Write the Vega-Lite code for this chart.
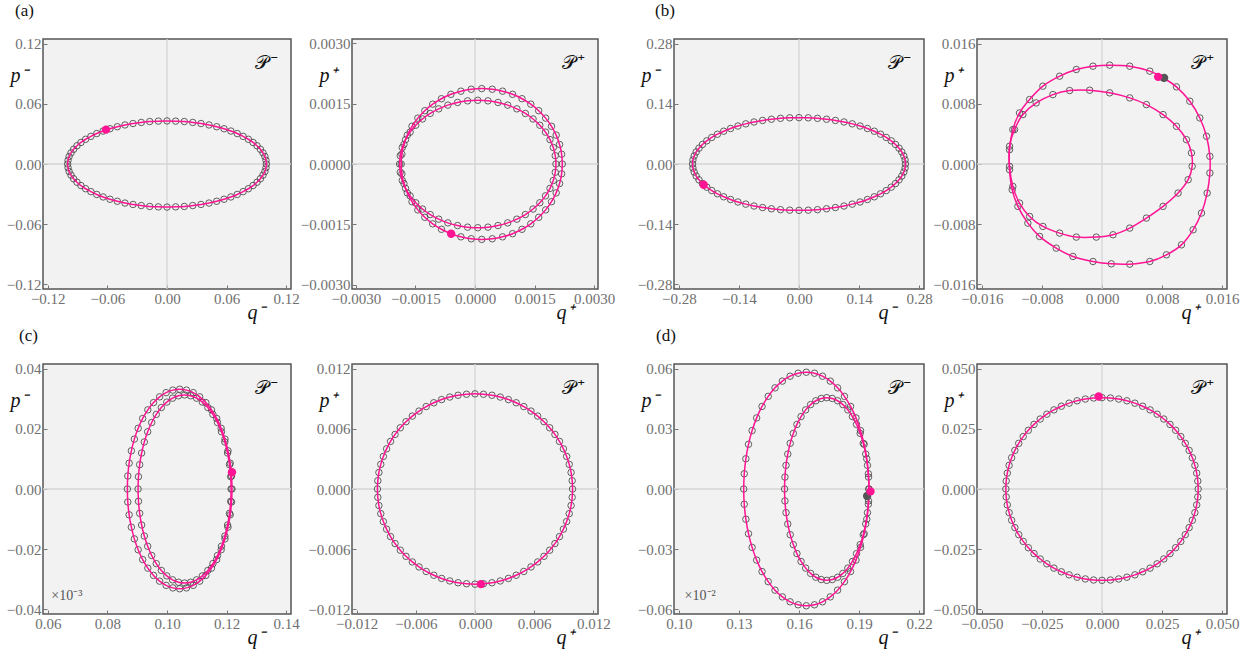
{
"$schema": "https://vega.github.io/schema/vega-lite/v6.json",
"padding": {"left": 5, "top": 1, "right": 5, "bottom": 2},
"background": "white",
"columns": 5,
"align": "each",
"bounds": "full",
"spacing": {"row": 3, "column": -2},
"config": {
 "view": {"fill": "#f2f2f2", "stroke": "#555555", "strokeWidth": 1.5},
 "axis": {"grid": false, "domain": false, "tickColor": "#777777", "tickSize": -4, "tickWidth": 1, "labelPadding": 6, "labelFont": "Liberation Serif, Times New Roman, serif", "labelFontSize": 15, "labelColor": "#707070", "labelOverlap": false, "labelFlush": false, "titleFont": "Liberation Serif, Times New Roman, serif", "titleFontSize": 20, "titleFontStyle": "italic", "titleFontWeight": "normal", "titleColor": "#111111"},
 "axisX": {"titleX": 204, "titleY": 29, "titleAlign": "left", "titleBaseline": "alphabetic"},
 "axisY": {"titleX": -33, "titleY": 42, "titleAngle": 0, "titleAlign": "left", "titleBaseline": "alphabetic"},
 "title": {"font": "Liberation Serif, Times New Roman, serif", "fontSize": 17, "fontWeight": "normal", "color": "#111111", "anchor": "start", "frame": "group", "baseline": "alphabetic", "offset": 17}
},
"concat": [
{
 "width": 248, "height": 250,
 "title": {"text": "(a)", "dx": -28},
 "data": {"values": [
{"q":0.1,"p":0},{"q":0.0996,"p":0.0037},{"q":0.0985,"p":0.0075},{"q":0.0966,"p":0.0111},{"q":0.094,"p":0.0147},{"q":0.0906,"p":0.0182},{"q":0.0866,"p":0.0215},{"q":0.0819,"p":0.0247},{"q":0.0766,"p":0.0276},{"q":0.0707,"p":0.0304},{"q":0.0643,"p":0.0329},{"q":0.0574,"p":0.0352},{"q":0.05,"p":0.0372},{"q":0.0423,"p":0.039},{"q":0.0342,"p":0.0404},{"q":0.0259,"p":0.0415},{"q":0.0174,"p":0.0424},{"q":0.0087,"p":0.0428},
{"q":0,"p":0.043},{"q":-0.0087,"p":0.0428},{"q":-0.0174,"p":0.0424},{"q":-0.0259,"p":0.0415},{"q":-0.0342,"p":0.0404},{"q":-0.0423,"p":0.039},{"q":-0.05,"p":0.0372},{"q":-0.0574,"p":0.0352},{"q":-0.0643,"p":0.0329},{"q":-0.0707,"p":0.0304},{"q":-0.0766,"p":0.0276},{"q":-0.0819,"p":0.0247},{"q":-0.0866,"p":0.0215},{"q":-0.0906,"p":0.0182},{"q":-0.094,"p":0.0147},{"q":-0.0966,"p":0.0111},{"q":-0.0985,"p":0.0075},{"q":-0.0996,"p":0.0037},
{"q":-0.1,"p":0},{"q":-0.0996,"p":-0.0037},{"q":-0.0985,"p":-0.0075},{"q":-0.0966,"p":-0.0111},{"q":-0.094,"p":-0.0147},{"q":-0.0906,"p":-0.0182},{"q":-0.0866,"p":-0.0215},{"q":-0.0819,"p":-0.0247},{"q":-0.0766,"p":-0.0276},{"q":-0.0707,"p":-0.0304},{"q":-0.0643,"p":-0.0329},{"q":-0.0574,"p":-0.0352},{"q":-0.05,"p":-0.0372},{"q":-0.0423,"p":-0.039},{"q":-0.0342,"p":-0.0404},{"q":-0.0259,"p":-0.0415},{"q":-0.0174,"p":-0.0424},{"q":-0.0087,"p":-0.0428},
{"q":0,"p":-0.043},{"q":0.0087,"p":-0.0428},{"q":0.0174,"p":-0.0424},{"q":0.0259,"p":-0.0415},{"q":0.0342,"p":-0.0404},{"q":0.0423,"p":-0.039},{"q":0.05,"p":-0.0372},{"q":0.0574,"p":-0.0352},{"q":0.0643,"p":-0.0329},{"q":0.0707,"p":-0.0304},{"q":0.0766,"p":-0.0276},{"q":0.0819,"p":-0.0247},{"q":0.0866,"p":-0.0215},{"q":0.0906,"p":-0.0182},{"q":0.094,"p":-0.0147},{"q":0.0966,"p":-0.0111},{"q":0.0985,"p":-0.0075},{"q":0.0996,"p":-0.0037}
 ]},
 "layer": [
  {"data": {"values": [{}]}, "mark": {"type": "rule", "color": "#d4d4d4", "strokeWidth": 1.3}, "encoding": {"x": {"datum": 0}}},
  {"data": {"values": [{}]}, "mark": {"type": "rule", "color": "#d4d4d4", "strokeWidth": 1.3}, "encoding": {"y": {"datum": 0}}},
  {"mark": {"type": "point", "shape": "circle", "filled": false, "stroke": "#444444", "strokeWidth": 0.85, "size": 42, "opacity": 1},
   "encoding": {
    "x": {"field": "q", "type": "quantitative", "scale": {"domain": [-0.1248, 0.1248], "nice": false, "zero": false}, "axis": {"values": [-0.12, -0.06, 0, 0.06, 0.12], "format": ".2f", "title": "q\u207b"}},
    "y": {"field": "p", "type": "quantitative", "scale": {"domain": [-0.1248, 0.1248], "nice": false, "zero": false}, "axis": {"values": [-0.12, -0.06, 0, 0.06, 0.12], "format": ".2f", "title": "p\u207b"}}}},
  {"mark": {"type": "line", "color": "#ff1493", "strokeWidth": 1.5, "interpolate": "cardinal-closed"}, "encoding": {"x": {"field": "q", "type": "quantitative"}, "y": {"field": "p", "type": "quantitative"}, "order": {"value": null}}},
  {"data": {"values": [{"q": -0.0614, "p": 0.0343}]}, "mark": {"type": "point", "filled": true, "color": "#ff1493", "size": 70, "opacity": 1}, "encoding": {"x": {"field": "q", "type": "quantitative"}, "y": {"field": "p", "type": "quantitative"}}},
  {"data": {"values": [{}]}, "mark": {"type": "text", "text": "\ud835\udcab\u200a\u207b", "fontSize": 19, "color": "#111111"}, "encoding": {"x": {"datum": 0.0996}, "y": {"datum": 0.1008}}}
 ]
},
{
 "width": 246, "height": 250,
 "data": {"values": [
{"q":0.0022,"p":0,"k":1},{"q":0.002183,"p":0.000244,"k":1},{"q":0.002131,"p":0.000484,"k":1},{"q":0.002046,"p":0.000716,"k":1},{"q":0.001928,"p":0.000935,"k":1},{"q":0.001781,"p":0.001138,"k":1},{"q":0.001605,"p":0.001322,"k":1},{"q":0.001406,"p":0.001484,"k":1},{"q":0.001185,"p":0.001619,"k":1},{"q":0.000947,"p":0.001728,"k":1},{"q":0.000695,"p":0.001806,"k":1},{"q":0.000435,"p":0.001854,"k":1},
{"q":0.00017,"p":0.00187,"k":1},{"q":-0.000095,"p":0.001854,"k":1},{"q":-0.000355,"p":0.001806,"k":1},{"q":-0.000607,"p":0.001728,"k":1},{"q":-0.000845,"p":0.001619,"k":1},{"q":-0.001066,"p":0.001484,"k":1},{"q":-0.001265,"p":0.001322,"k":1},{"q":-0.001441,"p":0.001138,"k":1},{"q":-0.001588,"p":0.000935,"k":1},{"q":-0.001706,"p":0.000716,"k":1},{"q":-0.001791,"p":0.000484,"k":1},{"q":-0.001843,"p":0.000244,"k":1},
{"q":-0.00186,"p":0,"k":1},{"q":-0.001843,"p":-0.000244,"k":1},{"q":-0.001791,"p":-0.000484,"k":1},{"q":-0.001706,"p":-0.000716,"k":1},{"q":-0.001588,"p":-0.000935,"k":1},{"q":-0.001441,"p":-0.001138,"k":1},{"q":-0.001265,"p":-0.001322,"k":1},{"q":-0.001066,"p":-0.001484,"k":1},{"q":-0.000845,"p":-0.001619,"k":1},{"q":-0.000607,"p":-0.001728,"k":1},{"q":-0.000355,"p":-0.001806,"k":1},{"q":-0.000095,"p":-0.001854,"k":1},
{"q":0.00017,"p":-0.00187,"k":1},{"q":0.000435,"p":-0.001854,"k":1},{"q":0.000695,"p":-0.001806,"k":1},{"q":0.000947,"p":-0.001728,"k":1},{"q":0.001185,"p":-0.001619,"k":1},{"q":0.001406,"p":-0.001484,"k":1},{"q":0.001605,"p":-0.001322,"k":1},{"q":0.001781,"p":-0.001138,"k":1},{"q":0.001928,"p":-0.000935,"k":1},{"q":0.002046,"p":-0.000716,"k":1},{"q":0.002131,"p":-0.000484,"k":1},{"q":0.002183,"p":-0.000244,"k":1},
{"q":0.00204,"p":0,"k":2},{"q":0.002023,"p":0.000206,"k":2},{"q":0.001973,"p":0.000409,"k":2},{"q":0.00189,"p":0.000605,"k":2},{"q":0.001776,"p":0.00079,"k":2},{"q":0.001633,"p":0.000962,"k":2},{"q":0.001463,"p":0.001117,"k":2},{"q":0.001269,"p":0.001254,"k":2},{"q":0.001055,"p":0.001368,"k":2},{"q":0.000824,"p":0.00146,"k":2},{"q":0.00058,"p":0.001526,"k":2},{"q":0.000327,"p":0.001566,"k":2},
{"q":0.00007,"p":0.00158,"k":2},{"q":-0.000187,"p":0.001566,"k":2},{"q":-0.00044,"p":0.001526,"k":2},{"q":-0.000684,"p":0.00146,"k":2},{"q":-0.000915,"p":0.001368,"k":2},{"q":-0.001129,"p":0.001254,"k":2},{"q":-0.001323,"p":0.001117,"k":2},{"q":-0.001493,"p":0.000962,"k":2},{"q":-0.001636,"p":0.00079,"k":2},{"q":-0.00175,"p":0.000605,"k":2},{"q":-0.001833,"p":0.000409,"k":2},{"q":-0.001883,"p":0.000206,"k":2},
{"q":-0.0019,"p":0,"k":2},{"q":-0.001883,"p":-0.000206,"k":2},{"q":-0.001833,"p":-0.000409,"k":2},{"q":-0.00175,"p":-0.000605,"k":2},{"q":-0.001636,"p":-0.00079,"k":2},{"q":-0.001493,"p":-0.000962,"k":2},{"q":-0.001323,"p":-0.001117,"k":2},{"q":-0.001129,"p":-0.001254,"k":2},{"q":-0.000915,"p":-0.001368,"k":2},{"q":-0.000684,"p":-0.00146,"k":2},{"q":-0.00044,"p":-0.001526,"k":2},{"q":-0.000187,"p":-0.001566,"k":2},
{"q":0.00007,"p":-0.00158,"k":2},{"q":0.000327,"p":-0.001566,"k":2},{"q":0.00058,"p":-0.001526,"k":2},{"q":0.000824,"p":-0.00146,"k":2},{"q":0.001055,"p":-0.001368,"k":2},{"q":0.001269,"p":-0.001254,"k":2},{"q":0.001463,"p":-0.001117,"k":2},{"q":0.001633,"p":-0.000962,"k":2},{"q":0.001776,"p":-0.00079,"k":2},{"q":0.00189,"p":-0.000605,"k":2},{"q":0.001973,"p":-0.000409,"k":2},{"q":0.002023,"p":-0.000206,"k":2}
 ]},
 "layer": [
  {"data": {"values": [{}]}, "mark": {"type": "rule", "color": "#d4d4d4", "strokeWidth": 1.3}, "encoding": {"x": {"datum": 0}}},
  {"data": {"values": [{}]}, "mark": {"type": "rule", "color": "#d4d4d4", "strokeWidth": 1.3}, "encoding": {"y": {"datum": 0}}},
  {"mark": {"type": "point", "shape": "circle", "filled": false, "stroke": "#444444", "strokeWidth": 0.85, "size": 42, "opacity": 1},
   "encoding": {
    "x": {"field": "q", "type": "quantitative", "scale": {"domain": [-0.0031, 0.0031], "nice": false, "zero": false}, "axis": {"values": [-0.003, -0.0015, 0, 0.0015, 0.003], "format": ".4f", "title": "q\u207a"}},
    "y": {"field": "p", "type": "quantitative", "scale": {"domain": [-0.0031, 0.0031], "nice": false, "zero": false}, "axis": {"values": [-0.003, -0.0015, 0, 0.0015, 0.003], "format": ".4f", "title": "p\u207a"}}}},
  {"mark": {"type": "line", "color": "#ff1493", "strokeWidth": 1.5, "interpolate": "cardinal-closed"}, "encoding": {"x": {"field": "q", "type": "quantitative"}, "y": {"field": "p", "type": "quantitative"}, "detail": {"field": "k"}, "order": {"value": null}}},
  {"data": {"values": [{"q": -0.0006, "p": -0.00173}]}, "mark": {"type": "point", "filled": true, "color": "#ff1493", "size": 70, "opacity": 1}, "encoding": {"x": {"field": "q", "type": "quantitative"}, "y": {"field": "p", "type": "quantitative"}}},
  {"data": {"values": [{}]}, "mark": {"type": "text", "text": "\ud835\udcab\u200a\u207a", "fontSize": 19, "color": "#111111"}, "encoding": {"x": {"datum": 0.00247}, "y": {"datum": 0.0025}}}
 ]
},
{"width": 22, "height": 250, "data": {"values": []}, "mark": "point", "encoding": {}, "view": {"fill": null, "stroke": null}},
{
 "width": 250, "height": 250,
 "title": {"text": "(b)", "dx": -19},
 "data": {"values": [
{"q":0.248,"p":0},{"q":0.2471,"p":0.0094},{"q":0.2442,"p":0.0187},{"q":0.2395,"p":0.028},{"q":0.233,"p":0.0369},{"q":0.2248,"p":0.0456},{"q":0.2148,"p":0.054},{"q":0.2032,"p":0.0619},{"q":0.19,"p":0.0694},{"q":0.1754,"p":0.0764},{"q":0.1594,"p":0.0827},{"q":0.1423,"p":0.0885},{"q":0.124,"p":0.0935},{"q":0.1048,"p":0.0979},{"q":0.0848,"p":0.1015},{"q":0.0642,"p":0.1043},{"q":0.0431,"p":0.1064},{"q":0.0216,"p":0.1076},
{"q":0,"p":0.108},{"q":-0.0216,"p":0.1076},{"q":-0.0431,"p":0.1064},{"q":-0.0642,"p":0.1043},{"q":-0.0848,"p":0.1015},{"q":-0.1048,"p":0.0979},{"q":-0.124,"p":0.0935},{"q":-0.1423,"p":0.0885},{"q":-0.1594,"p":0.0827},{"q":-0.1754,"p":0.0764},{"q":-0.19,"p":0.0694},{"q":-0.2032,"p":0.0619},{"q":-0.2148,"p":0.054},{"q":-0.2248,"p":0.0456},{"q":-0.233,"p":0.0369},{"q":-0.2395,"p":0.028},{"q":-0.2442,"p":0.0187},{"q":-0.2471,"p":0.0094},
{"q":-0.248,"p":0},{"q":-0.2471,"p":-0.0094},{"q":-0.2442,"p":-0.0187},{"q":-0.2395,"p":-0.028},{"q":-0.233,"p":-0.0369},{"q":-0.2248,"p":-0.0456},{"q":-0.2148,"p":-0.054},{"q":-0.2032,"p":-0.0619},{"q":-0.19,"p":-0.0694},{"q":-0.1754,"p":-0.0764},{"q":-0.1594,"p":-0.0827},{"q":-0.1423,"p":-0.0885},{"q":-0.124,"p":-0.0935},{"q":-0.1048,"p":-0.0979},{"q":-0.0848,"p":-0.1015},{"q":-0.0642,"p":-0.1043},{"q":-0.0431,"p":-0.1064},{"q":-0.0216,"p":-0.1076},
{"q":0,"p":-0.108},{"q":0.0216,"p":-0.1076},{"q":0.0431,"p":-0.1064},{"q":0.0642,"p":-0.1043},{"q":0.0848,"p":-0.1015},{"q":0.1048,"p":-0.0979},{"q":0.124,"p":-0.0935},{"q":0.1423,"p":-0.0885},{"q":0.1594,"p":-0.0827},{"q":0.1754,"p":-0.0764},{"q":0.19,"p":-0.0694},{"q":0.2032,"p":-0.0619},{"q":0.2148,"p":-0.054},{"q":0.2248,"p":-0.0456},{"q":0.233,"p":-0.0369},{"q":0.2395,"p":-0.028},{"q":0.2442,"p":-0.0187},{"q":0.2471,"p":-0.0094}
 ]},
 "layer": [
  {"data": {"values": [{}]}, "mark": {"type": "rule", "color": "#d4d4d4", "strokeWidth": 1.3}, "encoding": {"x": {"datum": 0}}},
  {"data": {"values": [{}]}, "mark": {"type": "rule", "color": "#d4d4d4", "strokeWidth": 1.3}, "encoding": {"y": {"datum": 0}}},
  {"mark": {"type": "point", "shape": "circle", "filled": false, "stroke": "#444444", "strokeWidth": 0.85, "size": 42, "opacity": 1},
   "encoding": {
    "x": {"field": "q", "type": "quantitative", "scale": {"domain": [-0.2912, 0.2912], "nice": false, "zero": false}, "axis": {"values": [-0.28, -0.14, 0, 0.14, 0.28], "format": ".2f", "title": "q\u207b"}},
    "y": {"field": "p", "type": "quantitative", "scale": {"domain": [-0.2912, 0.2912], "nice": false, "zero": false}, "axis": {"values": [-0.28, -0.14, 0, 0.14, 0.28], "format": ".2f", "title": "p\u207b"}}}},
  {"mark": {"type": "line", "color": "#ff1493", "strokeWidth": 1.5, "interpolate": "cardinal-closed"}, "encoding": {"x": {"field": "q", "type": "quantitative"}, "y": {"field": "p", "type": "quantitative"}, "order": {"value": null}}},
  {"data": {"values": [{"q": -0.222, "p": -0.0483}]}, "mark": {"type": "point", "filled": true, "color": "#ff1493", "size": 70, "opacity": 1}, "encoding": {"x": {"field": "q", "type": "quantitative"}, "y": {"field": "p", "type": "quantitative"}}},
  {"data": {"values": [{}]}, "mark": {"type": "text", "text": "\ud835\udcab\u200a\u207b", "fontSize": 19, "color": "#111111"}, "encoding": {"x": {"datum": 0.2325}, "y": {"datum": 0.2353}}}
 ]
},
{
 "width": 250, "height": 250,
 "data": {"values": [
{"q":0.00102,"p":0.01316,"k":1},{"q":0.00369,"p":0.01302,"k":1},{"q":0.00636,"p":0.01236,"k":1},{"q":0.00813,"p":0.01147,"k":1},{"q":0.00991,"p":0.01027,"k":1},{"q":0.01169,"p":0.00836,"k":1},{"q":0.01302,"p":0.00613,"k":1},{"q":0.01391,"p":0.00369,"k":1},{"q":0.01436,"p":0.00102,"k":1},{"q":0.01436,"p":-0.0012,"k":1},{"q":0.014,"p":-0.00387,"k":1},{"q":0.01324,"p":-0.00653,"k":1},{"q":0.01213,"p":-0.00876,"k":1},{"q":0.01058,"p":-0.01076,"k":1},{"q":0.00858,"p":-0.01209,"k":1},{"q":0.00636,"p":-0.01298,"k":1},{"q":0.00369,"p":-0.01333,"k":1},{"q":0.00124,"p":-0.01329,"k":1},{"q":-0.0012,"p":-0.01298,"k":1},{"q":-0.00387,"p":-0.01231,"k":1},{"q":-0.00609,"p":-0.0112,"k":1},{"q":-0.00831,"p":-0.00964,"k":1},{"q":-0.00987,"p":-0.00787,"k":1},{"q":-0.0112,"p":-0.00564,"k":1},{"q":-0.01196,"p":-0.00342,"k":1},{"q":-0.01231,"p":-0.00076,"k":1},{"q":-0.01231,"p":0.00191,"k":1},{"q":-0.01187,"p":0.00458,"k":1},{"q":-0.01098,"p":0.0068,"k":1},{"q":-0.00964,"p":0.00858,"k":1},{"q":-0.00787,"p":0.01036,"k":1},{"q":-0.00564,"p":0.01169,"k":1},{"q":-0.00342,"p":0.01258,"k":1},{"q":-0.0012,"p":0.01302,"k":1},
{"q":-0.00164,"p":0.00982,"k":2},{"q":0.00102,"p":0.00947,"k":2},{"q":0.00369,"p":0.0088,"k":2},{"q":0.00591,"p":0.00791,"k":2},{"q":0.00813,"p":0.00658,"k":2},{"q":0.00991,"p":0.00502,"k":2},{"q":0.01124,"p":0.00324,"k":2},{"q":0.01191,"p":0.00147,"k":2},{"q":0.012,"p":-0.00031,"k":2},{"q":0.01147,"p":-0.00209,"k":2},{"q":0.01013,"p":-0.00387,"k":2},{"q":0.00813,"p":-0.00564,"k":2},{"q":0.00591,"p":-0.0072,"k":2},{"q":0.00369,"p":-0.00853,"k":2},{"q":0.00147,"p":-0.00942,"k":2},{"q":-0.00076,"p":-0.00973,"k":2},{"q":-0.00342,"p":-0.00973,"k":2},{"q":-0.00564,"p":-0.0092,"k":2},{"q":-0.00787,"p":-0.00831,"k":2},{"q":-0.00964,"p":-0.00698,"k":2},{"q":-0.01098,"p":-0.0052,"k":2},{"q":-0.01187,"p":-0.00298,"k":2},{"q":-0.01231,"p":-0.00031,"k":2},{"q":-0.01231,"p":0.00236,"k":2},{"q":-0.01164,"p":0.00458,"k":2},{"q":-0.01053,"p":0.00658,"k":2},{"q":-0.00876,"p":0.00813,"k":2},{"q":-0.00653,"p":0.00924,"k":2},{"q":-0.00431,"p":0.00978,"k":2}
 ]},
 "layer": [
  {"data": {"values": [{}]}, "mark": {"type": "rule", "color": "#d4d4d4", "strokeWidth": 1.3}, "encoding": {"x": {"datum": 0}}},
  {"data": {"values": [{}]}, "mark": {"type": "rule", "color": "#d4d4d4", "strokeWidth": 1.3}, "encoding": {"y": {"datum": 0}}},
  {"mark": {"type": "point", "shape": "circle", "filled": false, "stroke": "#444444", "strokeWidth": 0.85, "size": 42, "opacity": 1},
   "encoding": {
    "x": {"field": "q", "type": "quantitative", "scale": {"domain": [-0.01664, 0.01664], "nice": false, "zero": false}, "axis": {"values": [-0.016, -0.008, 0, 0.008, 0.016], "format": ".3f", "title": "q\u207a"}},
    "y": {"field": "p", "type": "quantitative", "scale": {"domain": [-0.01664, 0.01664], "nice": false, "zero": false}, "axis": {"values": [-0.016, -0.008, 0, 0.008, 0.016], "format": ".3f", "title": "p\u207a"}}}},
  {"mark": {"type": "line", "color": "#ff1493", "strokeWidth": 1.5, "interpolate": "cardinal-closed"}, "encoding": {"x": {"field": "q", "type": "quantitative"}, "y": {"field": "p", "type": "quantitative"}, "detail": {"field": "k"}, "order": {"value": null}}},
  {"data": {"values": [{"q": 0.00827, "p": 0.01147}]}, "mark": {"type": "point", "filled": true, "color": "#555555", "size": 70, "opacity": 1}, "encoding": {"x": {"field": "q", "type": "quantitative"}, "y": {"field": "p", "type": "quantitative"}}},
  {"data": {"values": [{"q": 0.00747, "p": 0.0116}]}, "mark": {"type": "point", "filled": true, "color": "#ff1493", "size": 70, "opacity": 1}, "encoding": {"x": {"field": "q", "type": "quantitative"}, "y": {"field": "p", "type": "quantitative"}}},
  {"data": {"values": [{}]}, "mark": {"type": "text", "text": "\ud835\udcab\u200a\u207a", "fontSize": 19, "color": "#111111"}, "encoding": {"x": {"datum": 0.01328}, "y": {"datum": 0.01344}}}
 ]
},
{
 "width": 248, "height": 250,
 "title": {"text": "(c)", "dx": -24},
 "data": {"values": [
{"q":0.1218,"p":0,"k":1},{"q":0.12165,"p":0.00433,"k":1},{"q":0.1212,"p":0.00859,"k":1},{"q":0.12046,"p":0.01271,"k":1},{"q":0.11945,"p":0.0166,"k":1},{"q":0.11817,"p":0.02021,"k":1},{"q":0.11666,"p":0.02348,"k":1},{"q":0.11493,"p":0.02634,"k":1},{"q":0.11303,"p":0.02875,"k":1},{"q":0.11097,"p":0.03067,"k":1},{"q":0.10879,"p":0.03207,"k":1},{"q":0.10654,"p":0.03291,"k":1},
{"q":0.10425,"p":0.0332,"k":1},{"q":0.10196,"p":0.03291,"k":1},{"q":0.09971,"p":0.03207,"k":1},{"q":0.09753,"p":0.03067,"k":1},{"q":0.09548,"p":0.02875,"k":1},{"q":0.09357,"p":0.02634,"k":1},{"q":0.09184,"p":0.02348,"k":1},{"q":0.09033,"p":0.02021,"k":1},{"q":0.08905,"p":0.0166,"k":1},{"q":0.08804,"p":0.01271,"k":1},{"q":0.0873,"p":0.00859,"k":1},{"q":0.08685,"p":0.00433,"k":1},
{"q":0.0867,"p":0,"k":1},{"q":0.08685,"p":-0.00433,"k":1},{"q":0.0873,"p":-0.00859,"k":1},{"q":0.08804,"p":-0.01271,"k":1},{"q":0.08905,"p":-0.0166,"k":1},{"q":0.09033,"p":-0.02021,"k":1},{"q":0.09184,"p":-0.02348,"k":1},{"q":0.09357,"p":-0.02634,"k":1},{"q":0.09548,"p":-0.02875,"k":1},{"q":0.09753,"p":-0.03067,"k":1},{"q":0.09971,"p":-0.03207,"k":1},{"q":0.10196,"p":-0.03291,"k":1},
{"q":0.10425,"p":-0.0332,"k":1},{"q":0.10654,"p":-0.03291,"k":1},{"q":0.10879,"p":-0.03207,"k":1},{"q":0.11097,"p":-0.03067,"k":1},{"q":0.11303,"p":-0.02875,"k":1},{"q":0.11493,"p":-0.02634,"k":1},{"q":0.11666,"p":-0.02348,"k":1},{"q":0.11817,"p":-0.02021,"k":1},{"q":0.11945,"p":-0.0166,"k":1},{"q":0.12046,"p":-0.01271,"k":1},{"q":0.1212,"p":-0.00859,"k":1},{"q":0.12165,"p":-0.00433,"k":1},
{"q":0.1215,"p":0,"k":2},{"q":0.12137,"p":0.00409,"k":2},{"q":0.12097,"p":0.0081,"k":2},{"q":0.12031,"p":0.01198,"k":2},{"q":0.11941,"p":0.01565,"k":2},{"q":0.11828,"p":0.01906,"k":2},{"q":0.11693,"p":0.02213,"k":2},{"q":0.1154,"p":0.02483,"k":2},{"q":0.1137,"p":0.02711,"k":2},{"q":0.11187,"p":0.02892,"k":2},{"q":0.10994,"p":0.03023,"k":2},{"q":0.10794,"p":0.03103,"k":2},
{"q":0.1059,"p":0.0313,"k":2},{"q":0.10386,"p":0.03103,"k":2},{"q":0.10186,"p":0.03023,"k":2},{"q":0.09993,"p":0.02892,"k":2},{"q":0.0981,"p":0.02711,"k":2},{"q":0.0964,"p":0.02483,"k":2},{"q":0.09487,"p":0.02213,"k":2},{"q":0.09352,"p":0.01906,"k":2},{"q":0.09239,"p":0.01565,"k":2},{"q":0.09149,"p":0.01198,"k":2},{"q":0.09083,"p":0.0081,"k":2},{"q":0.09043,"p":0.00409,"k":2},
{"q":0.0903,"p":0,"k":2},{"q":0.09043,"p":-0.00409,"k":2},{"q":0.09083,"p":-0.0081,"k":2},{"q":0.09149,"p":-0.01198,"k":2},{"q":0.09239,"p":-0.01565,"k":2},{"q":0.09352,"p":-0.01906,"k":2},{"q":0.09487,"p":-0.02213,"k":2},{"q":0.0964,"p":-0.02483,"k":2},{"q":0.0981,"p":-0.02711,"k":2},{"q":0.09993,"p":-0.02892,"k":2},{"q":0.10186,"p":-0.03023,"k":2},{"q":0.10386,"p":-0.03103,"k":2},
{"q":0.1059,"p":-0.0313,"k":2},{"q":0.10794,"p":-0.03103,"k":2},{"q":0.10994,"p":-0.03023,"k":2},{"q":0.11187,"p":-0.02892,"k":2},{"q":0.1137,"p":-0.02711,"k":2},{"q":0.1154,"p":-0.02483,"k":2},{"q":0.11693,"p":-0.02213,"k":2},{"q":0.11828,"p":-0.01906,"k":2},{"q":0.11941,"p":-0.01565,"k":2},{"q":0.12031,"p":-0.01198,"k":2},{"q":0.12097,"p":-0.0081,"k":2},{"q":0.12137,"p":-0.00409,"k":2}
 ]},
 "layer": [
  {"data": {"values": [{}]}, "mark": {"type": "rule", "color": "#d4d4d4", "strokeWidth": 1.3}, "encoding": {"y": {"datum": 0}}},
  {"mark": {"type": "point", "shape": "circle", "filled": false, "stroke": "#444444", "strokeWidth": 0.85, "size": 42, "opacity": 1},
   "encoding": {
    "x": {"field": "q", "type": "quantitative", "scale": {"domain": [0.0584, 0.1416], "nice": false, "zero": false}, "axis": {"values": [0.06, 0.08, 0.1, 0.12, 0.14], "format": ".2f", "title": "q\u207b"}},
    "y": {"field": "p", "type": "quantitative", "scale": {"domain": [-0.0416, 0.0416], "nice": false, "zero": false}, "axis": {"values": [-0.04, -0.02, 0, 0.02, 0.04], "format": ".2f", "title": "p\u207b"}}}},
  {"mark": {"type": "line", "color": "#ff1493", "strokeWidth": 1.5, "interpolate": "cardinal-closed"}, "encoding": {"x": {"field": "q", "type": "quantitative"}, "y": {"field": "p", "type": "quantitative"}, "detail": {"field": "k"}, "order": {"value": null}}},
  {"data": {"values": [{"q": 0.1218, "p": 0.0056}]}, "mark": {"type": "point", "filled": true, "color": "#ff1493", "size": 70, "opacity": 1}, "encoding": {"x": {"field": "q", "type": "quantitative"}, "y": {"field": "p", "type": "quantitative"}}},
  {"data": {"values": [{}]}, "mark": {"type": "text", "text": "\ud835\udcab\u200a\u207b", "fontSize": 19, "color": "#111111"}, "encoding": {"x": {"datum": 0.1332}, "y": {"datum": 0.0336}}},
  {"data": {"values": [{}]}, "mark": {"type": "text", "text": "\u00d710\u207b\u00b3", "font": "Liberation Serif, Times New Roman, serif", "fontSize": 14, "color": "#555555", "align": "left", "baseline": "alphabetic"}, "encoding": {"x": {"datum": 0.0612}, "y": {"datum": -0.037}}}
 ]
},
{
 "width": 246, "height": 250,
 "data": {"values": [
{"q":0.0099,"p":0},{"q":0.00986,"p":0.00083},{"q":0.00975,"p":0.00165},{"q":0.00956,"p":0.00246},{"q":0.0093,"p":0.00325},{"q":0.00897,"p":0.00401},{"q":0.00857,"p":0.00475},{"q":0.00811,"p":0.00545},{"q":0.00758,"p":0.00611},{"q":0.007,"p":0.00672},{"q":0.00636,"p":0.00728},{"q":0.00568,"p":0.00778},{"q":0.00495,"p":0.00823},{"q":0.00418,"p":0.00861},{"q":0.00339,"p":0.00893},{"q":0.00256,"p":0.00918},{"q":0.00172,"p":0.00936},{"q":0.00086,"p":0.00946},
{"q":0,"p":0.0095},{"q":-0.00086,"p":0.00946},{"q":-0.00172,"p":0.00936},{"q":-0.00256,"p":0.00918},{"q":-0.00339,"p":0.00893},{"q":-0.00418,"p":0.00861},{"q":-0.00495,"p":0.00823},{"q":-0.00568,"p":0.00778},{"q":-0.00636,"p":0.00728},{"q":-0.007,"p":0.00672},{"q":-0.00758,"p":0.00611},{"q":-0.00811,"p":0.00545},{"q":-0.00857,"p":0.00475},{"q":-0.00897,"p":0.00401},{"q":-0.0093,"p":0.00325},{"q":-0.00956,"p":0.00246},{"q":-0.00975,"p":0.00165},{"q":-0.00986,"p":0.00083},
{"q":-0.0099,"p":0},{"q":-0.00986,"p":-0.00083},{"q":-0.00975,"p":-0.00165},{"q":-0.00956,"p":-0.00246},{"q":-0.0093,"p":-0.00325},{"q":-0.00897,"p":-0.00401},{"q":-0.00857,"p":-0.00475},{"q":-0.00811,"p":-0.00545},{"q":-0.00758,"p":-0.00611},{"q":-0.007,"p":-0.00672},{"q":-0.00636,"p":-0.00728},{"q":-0.00568,"p":-0.00778},{"q":-0.00495,"p":-0.00823},{"q":-0.00418,"p":-0.00861},{"q":-0.00339,"p":-0.00893},{"q":-0.00256,"p":-0.00918},{"q":-0.00172,"p":-0.00936},{"q":-0.00086,"p":-0.00946},
{"q":0,"p":-0.0095},{"q":0.00086,"p":-0.00946},{"q":0.00172,"p":-0.00936},{"q":0.00256,"p":-0.00918},{"q":0.00339,"p":-0.00893},{"q":0.00418,"p":-0.00861},{"q":0.00495,"p":-0.00823},{"q":0.00568,"p":-0.00778},{"q":0.00636,"p":-0.00728},{"q":0.007,"p":-0.00672},{"q":0.00758,"p":-0.00611},{"q":0.00811,"p":-0.00545},{"q":0.00857,"p":-0.00475},{"q":0.00897,"p":-0.00401},{"q":0.0093,"p":-0.00325},{"q":0.00956,"p":-0.00246},{"q":0.00975,"p":-0.00165},{"q":0.00986,"p":-0.00083}
 ]},
 "layer": [
  {"data": {"values": [{}]}, "mark": {"type": "rule", "color": "#d4d4d4", "strokeWidth": 1.3}, "encoding": {"x": {"datum": 0}}},
  {"data": {"values": [{}]}, "mark": {"type": "rule", "color": "#d4d4d4", "strokeWidth": 1.3}, "encoding": {"y": {"datum": 0}}},
  {"mark": {"type": "point", "shape": "circle", "filled": false, "stroke": "#444444", "strokeWidth": 0.85, "size": 42, "opacity": 1},
   "encoding": {
    "x": {"field": "q", "type": "quantitative", "scale": {"domain": [-0.01248, 0.01248], "nice": false, "zero": false}, "axis": {"values": [-0.012, -0.006, 0, 0.006, 0.012], "format": ".3f", "title": "q\u207a"}},
    "y": {"field": "p", "type": "quantitative", "scale": {"domain": [-0.01248, 0.01248], "nice": false, "zero": false}, "axis": {"values": [-0.012, -0.006, 0, 0.006, 0.012], "format": ".3f", "title": "p\u207a"}}}},
  {"mark": {"type": "line", "color": "#ff1493", "strokeWidth": 1.5, "interpolate": "cardinal-closed"}, "encoding": {"x": {"field": "q", "type": "quantitative"}, "y": {"field": "p", "type": "quantitative"}, "order": {"value": null}}},
  {"data": {"values": [{"q": 0.0006, "p": -0.0095}]}, "mark": {"type": "point", "filled": true, "color": "#ff1493", "size": 70, "opacity": 1}, "encoding": {"x": {"field": "q", "type": "quantitative"}, "y": {"field": "p", "type": "quantitative"}}},
  {"data": {"values": [{}]}, "mark": {"type": "text", "text": "\ud835\udcab\u200a\u207a", "fontSize": 19, "color": "#111111"}, "encoding": {"x": {"datum": 0.00996}, "y": {"datum": 0.0101}}}
 ]
},
{"width": 22, "height": 250, "data": {"values": []}, "mark": "point", "encoding": {}, "view": {"fill": null, "stroke": null}},
{
 "width": 250, "height": 250,
 "title": {"text": "(d)", "dx": -18},
 "data": {"values": [
{"q":0.1949,"p":0,"k":1},{"q":0.19463,"p":0.00761,"k":1},{"q":0.19383,"p":0.01509,"k":1},{"q":0.19252,"p":0.02231,"k":1},{"q":0.19071,"p":0.02915,"k":1},{"q":0.18844,"p":0.03549,"k":1},{"q":0.18575,"p":0.04122,"k":1},{"q":0.18268,"p":0.04626,"k":1},{"q":0.17928,"p":0.05049,"k":1},{"q":0.17561,"p":0.05386,"k":1},{"q":0.17174,"p":0.05631,"k":1},{"q":0.16773,"p":0.0578,"k":1},
{"q":0.16365,"p":0.0583,"k":1},{"q":0.15957,"p":0.0578,"k":1},{"q":0.15556,"p":0.05631,"k":1},{"q":0.15169,"p":0.05386,"k":1},{"q":0.14803,"p":0.05049,"k":1},{"q":0.14463,"p":0.04626,"k":1},{"q":0.14155,"p":0.04122,"k":1},{"q":0.13886,"p":0.03549,"k":1},{"q":0.13659,"p":0.02915,"k":1},{"q":0.13478,"p":0.02231,"k":1},{"q":0.13347,"p":0.01509,"k":1},{"q":0.13267,"p":0.00761,"k":1},
{"q":0.1324,"p":0,"k":1},{"q":0.13267,"p":-0.00761,"k":1},{"q":0.13347,"p":-0.01509,"k":1},{"q":0.13478,"p":-0.02231,"k":1},{"q":0.13659,"p":-0.02915,"k":1},{"q":0.13886,"p":-0.03549,"k":1},{"q":0.14155,"p":-0.04122,"k":1},{"q":0.14463,"p":-0.04626,"k":1},{"q":0.14803,"p":-0.05049,"k":1},{"q":0.15169,"p":-0.05386,"k":1},{"q":0.15556,"p":-0.05631,"k":1},{"q":0.15957,"p":-0.0578,"k":1},
{"q":0.16365,"p":-0.0583,"k":1},{"q":0.16773,"p":-0.0578,"k":1},{"q":0.17174,"p":-0.05631,"k":1},{"q":0.17561,"p":-0.05386,"k":1},{"q":0.17928,"p":-0.05049,"k":1},{"q":0.18268,"p":-0.04626,"k":1},{"q":0.18575,"p":-0.04122,"k":1},{"q":0.18844,"p":-0.03549,"k":1},{"q":0.19071,"p":-0.02915,"k":1},{"q":0.19252,"p":-0.02231,"k":1},{"q":0.19383,"p":-0.01509,"k":1},{"q":0.19463,"p":-0.00761,"k":1},
{"q":0.1949,"p":0,"k":2},{"q":0.19472,"p":0.00595,"k":2},{"q":0.19418,"p":0.0118,"k":2},{"q":0.1933,"p":0.01745,"k":2},{"q":0.19208,"p":0.0228,"k":2},{"q":0.19055,"p":0.02776,"k":2},{"q":0.18873,"p":0.03224,"k":2},{"q":0.18667,"p":0.03618,"k":2},{"q":0.18438,"p":0.03949,"k":2},{"q":0.18191,"p":0.04213,"k":2},{"q":0.1793,"p":0.04405,"k":2},{"q":0.1766,"p":0.04521,"k":2},
{"q":0.17385,"p":0.0456,"k":2},{"q":0.1711,"p":0.04521,"k":2},{"q":0.1684,"p":0.04405,"k":2},{"q":0.16579,"p":0.04213,"k":2},{"q":0.16333,"p":0.03949,"k":2},{"q":0.16104,"p":0.03618,"k":2},{"q":0.15897,"p":0.03224,"k":2},{"q":0.15715,"p":0.02776,"k":2},{"q":0.15562,"p":0.0228,"k":2},{"q":0.1544,"p":0.01745,"k":2},{"q":0.15352,"p":0.0118,"k":2},{"q":0.15298,"p":0.00595,"k":2},
{"q":0.1528,"p":0,"k":2},{"q":0.15298,"p":-0.00595,"k":2},{"q":0.15352,"p":-0.0118,"k":2},{"q":0.1544,"p":-0.01745,"k":2},{"q":0.15562,"p":-0.0228,"k":2},{"q":0.15715,"p":-0.02776,"k":2},{"q":0.15897,"p":-0.03224,"k":2},{"q":0.16104,"p":-0.03618,"k":2},{"q":0.16333,"p":-0.03949,"k":2},{"q":0.16579,"p":-0.04213,"k":2},{"q":0.1684,"p":-0.04405,"k":2},{"q":0.1711,"p":-0.04521,"k":2},
{"q":0.17385,"p":-0.0456,"k":2},{"q":0.1766,"p":-0.04521,"k":2},{"q":0.1793,"p":-0.04405,"k":2},{"q":0.18191,"p":-0.04213,"k":2},{"q":0.18438,"p":-0.03949,"k":2},{"q":0.18667,"p":-0.03618,"k":2},{"q":0.18873,"p":-0.03224,"k":2},{"q":0.19055,"p":-0.02776,"k":2},{"q":0.19208,"p":-0.0228,"k":2},{"q":0.1933,"p":-0.01745,"k":2},{"q":0.19418,"p":-0.0118,"k":2},{"q":0.19472,"p":-0.00595,"k":2}
 ]},
 "layer": [
  {"data": {"values": [{}]}, "mark": {"type": "rule", "color": "#d4d4d4", "strokeWidth": 1.3}, "encoding": {"y": {"datum": 0}}},
  {"mark": {"type": "point", "shape": "circle", "filled": false, "stroke": "#444444", "strokeWidth": 0.85, "size": 42, "opacity": 1},
   "encoding": {
    "x": {"field": "q", "type": "quantitative", "scale": {"domain": [0.0976, 0.2224], "nice": false, "zero": false}, "axis": {"values": [0.1, 0.13, 0.16, 0.19, 0.22], "format": ".2f", "title": "q\u207b"}},
    "y": {"field": "p", "type": "quantitative", "scale": {"domain": [-0.0624, 0.0624], "nice": false, "zero": false}, "axis": {"values": [-0.06, -0.03, 0, 0.03, 0.06], "format": ".2f", "title": "p\u207b"}}}},
  {"mark": {"type": "line", "color": "#ff1493", "strokeWidth": 1.5, "interpolate": "cardinal-closed"}, "encoding": {"x": {"field": "q", "type": "quantitative"}, "y": {"field": "p", "type": "quantitative"}, "detail": {"field": "k"}, "order": {"value": null}}},
  {"data": {"values": [{"q": 0.194, "p": -0.0035}]}, "mark": {"type": "point", "filled": true, "color": "#555555", "size": 70, "opacity": 1}, "encoding": {"x": {"field": "q", "type": "quantitative"}, "y": {"field": "p", "type": "quantitative"}}},
  {"data": {"values": [{"q": 0.1957, "p": -0.0012}]}, "mark": {"type": "point", "filled": true, "color": "#ff1493", "size": 70, "opacity": 1}, "encoding": {"x": {"field": "q", "type": "quantitative"}, "y": {"field": "p", "type": "quantitative"}}},
  {"data": {"values": [{}]}, "mark": {"type": "text", "text": "\ud835\udcab\u200a\u207b", "fontSize": 19, "color": "#111111"}, "encoding": {"x": {"datum": 0.2098}, "y": {"datum": 0.0504}}},
  {"data": {"values": [{}]}, "mark": {"type": "text", "text": "\u00d710\u207b\u00b2", "font": "Liberation Serif, Times New Roman, serif", "fontSize": 14, "color": "#555555", "align": "left", "baseline": "alphabetic"}, "encoding": {"x": {"datum": 0.1029}, "y": {"datum": -0.0553}}}
 ]
},
{
 "width": 250, "height": 250,
 "data": {"values": [
{"q":0.04,"p":0},{"q":0.03985,"p":0.00331},{"q":0.03939,"p":0.0066},{"q":0.03864,"p":0.00983},{"q":0.03759,"p":0.013},{"q":0.03625,"p":0.01606},{"q":0.03464,"p":0.019},{"q":0.03277,"p":0.0218},{"q":0.03064,"p":0.02443},{"q":0.02828,"p":0.02687},{"q":0.02571,"p":0.02911},{"q":0.02294,"p":0.03113},{"q":0.02,"p":0.03291},{"q":0.0169,"p":0.03444},{"q":0.01368,"p":0.03571},{"q":0.01035,"p":0.0367},{"q":0.00694,"p":0.03742},{"q":0.00349,"p":0.03786},
{"q":0,"p":0.038},{"q":-0.00349,"p":0.03786},{"q":-0.00694,"p":0.03742},{"q":-0.01035,"p":0.0367},{"q":-0.01368,"p":0.03571},{"q":-0.0169,"p":0.03444},{"q":-0.02,"p":0.03291},{"q":-0.02294,"p":0.03113},{"q":-0.02571,"p":0.02911},{"q":-0.02828,"p":0.02687},{"q":-0.03064,"p":0.02443},{"q":-0.03277,"p":0.0218},{"q":-0.03464,"p":0.019},{"q":-0.03625,"p":0.01606},{"q":-0.03759,"p":0.013},{"q":-0.03864,"p":0.00983},{"q":-0.03939,"p":0.0066},{"q":-0.03985,"p":0.00331},
{"q":-0.04,"p":0},{"q":-0.03985,"p":-0.00331},{"q":-0.03939,"p":-0.0066},{"q":-0.03864,"p":-0.00983},{"q":-0.03759,"p":-0.013},{"q":-0.03625,"p":-0.01606},{"q":-0.03464,"p":-0.019},{"q":-0.03277,"p":-0.0218},{"q":-0.03064,"p":-0.02443},{"q":-0.02828,"p":-0.02687},{"q":-0.02571,"p":-0.02911},{"q":-0.02294,"p":-0.03113},{"q":-0.02,"p":-0.03291},{"q":-0.0169,"p":-0.03444},{"q":-0.01368,"p":-0.03571},{"q":-0.01035,"p":-0.0367},{"q":-0.00694,"p":-0.03742},{"q":-0.00349,"p":-0.03786},
{"q":0,"p":-0.038},{"q":0.00349,"p":-0.03786},{"q":0.00694,"p":-0.03742},{"q":0.01035,"p":-0.0367},{"q":0.01368,"p":-0.03571},{"q":0.0169,"p":-0.03444},{"q":0.02,"p":-0.03291},{"q":0.02294,"p":-0.03113},{"q":0.02571,"p":-0.02911},{"q":0.02828,"p":-0.02687},{"q":0.03064,"p":-0.02443},{"q":0.03277,"p":-0.0218},{"q":0.03464,"p":-0.019},{"q":0.03625,"p":-0.01606},{"q":0.03759,"p":-0.013},{"q":0.03864,"p":-0.00983},{"q":0.03939,"p":-0.0066},{"q":0.03985,"p":-0.00331}
 ]},
 "layer": [
  {"data": {"values": [{}]}, "mark": {"type": "rule", "color": "#d4d4d4", "strokeWidth": 1.3}, "encoding": {"x": {"datum": 0}}},
  {"data": {"values": [{}]}, "mark": {"type": "rule", "color": "#d4d4d4", "strokeWidth": 1.3}, "encoding": {"y": {"datum": 0}}},
  {"mark": {"type": "point", "shape": "circle", "filled": false, "stroke": "#444444", "strokeWidth": 0.85, "size": 42, "opacity": 1},
   "encoding": {
    "x": {"field": "q", "type": "quantitative", "scale": {"domain": [-0.052, 0.052], "nice": false, "zero": false}, "axis": {"values": [-0.05, -0.025, 0, 0.025, 0.05], "format": ".3f", "title": "q\u207a"}},
    "y": {"field": "p", "type": "quantitative", "scale": {"domain": [-0.052, 0.052], "nice": false, "zero": false}, "axis": {"values": [-0.05, -0.025, 0, 0.025, 0.05], "format": ".3f", "title": "p\u207a"}}}},
  {"mark": {"type": "line", "color": "#ff1493", "strokeWidth": 1.5, "interpolate": "cardinal-closed"}, "encoding": {"x": {"field": "q", "type": "quantitative"}, "y": {"field": "p", "type": "quantitative"}, "order": {"value": null}}},
  {"data": {"values": [{"q": -0.0014, "p": 0.0385}]}, "mark": {"type": "point", "filled": true, "color": "#ff1493", "size": 70, "opacity": 1}, "encoding": {"x": {"field": "q", "type": "quantitative"}, "y": {"field": "p", "type": "quantitative"}}},
  {"data": {"values": [{}]}, "mark": {"type": "text", "text": "\ud835\udcab\u200a\u207a", "fontSize": 19, "color": "#111111"}, "encoding": {"x": {"datum": 0.0415}, "y": {"datum": 0.042}}}
 ]
}
]
}
